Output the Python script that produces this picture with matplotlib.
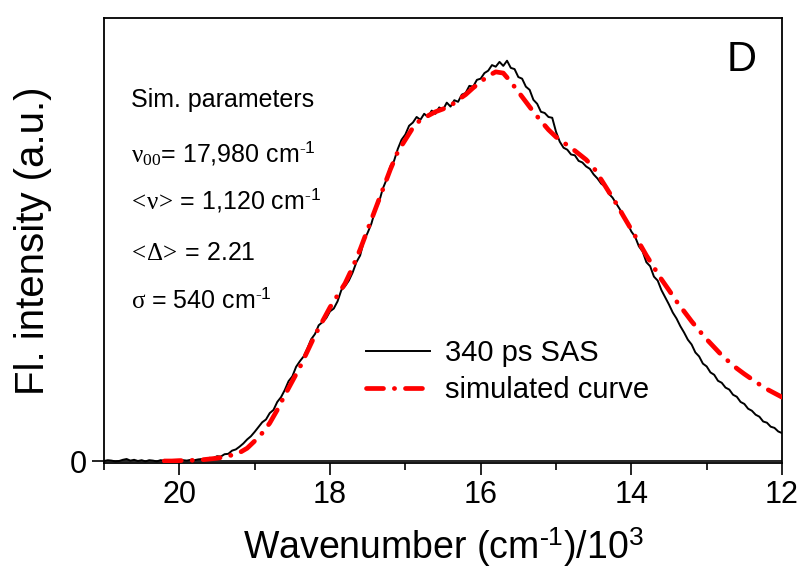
import numpy as np
import matplotlib
matplotlib.use("Agg")
import matplotlib.pyplot as plt

plt.rcParams['font.family'] = ['Liberation Sans', 'DejaVu Sans']
plt.rcParams['mathtext.fontset'] = 'custom'
plt.rcParams['mathtext.rm'] = 'Liberation Serif'
plt.rcParams['mathtext.sf'] = 'Liberation Sans'
plt.rcParams['mathtext.it'] = 'Liberation Serif:italic'
plt.rcParams['mathtext.bf'] = 'Liberation Serif:bold'

# ---- data (wavenumber in 10^3 cm^-1, normalized intensity) ----
sas_x_start, sas_x_end = 21.0, 12.0
sas_y = [
    0.000, 0.002, 0.001, -0.001, 0.000, 0.003, 0.005, 0.001, 0.003, 0.000,
    0.002, -0.001, 0.002, 0.001, -0.001, 0.002, 0.001, 0.000, 0.001, -0.001,
    0.001, 0.002, 0.001, 0.003, 0.002, 0.004, 0.005, 0.004, 0.008, 0.007,
    0.012, 0.011, 0.017, 0.018, 0.026, 0.029, 0.036, 0.044, 0.054, 0.062,
    0.073, 0.085, 0.097, 0.104, 0.120, 0.128, 0.148, 0.160, 0.178, 0.200,
    0.212, 0.236, 0.250, 0.262, 0.282, 0.305, 0.318, 0.340, 0.348, 0.358,
    0.375, 0.382, 0.400, 0.428, 0.438, 0.452, 0.472, 0.498, 0.515, 0.552,
    0.572, 0.595, 0.628, 0.648, 0.682, 0.705, 0.738, 0.752, 0.782, 0.805,
    0.818, 0.840, 0.848, 0.862, 0.855, 0.870, 0.862, 0.878, 0.870, 0.886,
    0.880, 0.898, 0.888, 0.904, 0.900, 0.918, 0.922, 0.940, 0.938, 0.955,
    0.958, 0.972, 0.978, 0.992, 0.988, 1.000, 0.990, 1.003, 0.985, 0.982,
    0.962, 0.958, 0.938, 0.930, 0.905, 0.895, 0.875, 0.872, 0.862, 0.860,
    0.825, 0.800, 0.785, 0.780, 0.768, 0.766, 0.752, 0.748, 0.738, 0.732,
    0.718, 0.708, 0.695, 0.688, 0.670, 0.660, 0.645, 0.630, 0.610, 0.595,
    0.575, 0.562, 0.538, 0.525, 0.498, 0.488, 0.462, 0.452, 0.428, 0.410,
    0.392, 0.372, 0.357, 0.338, 0.322, 0.304, 0.292, 0.272, 0.262, 0.244,
    0.237, 0.222, 0.216, 0.201, 0.196, 0.184, 0.179, 0.166, 0.161, 0.148,
    0.143, 0.131, 0.126, 0.116, 0.111, 0.099, 0.096, 0.086, 0.083, 0.074,
    0.070,
]
sim_x_start, sim_x_end = 20.2, 12.0
sim_y = [
    0.000, 0.000, 0.001,
    0.001, 0.002, 0.003, 0.005, 0.007, 0.010, 0.015, 0.021, 0.032, 0.050,
    0.070, 0.095, 0.128, 0.165, 0.200, 0.235, 0.275, 0.315, 0.350, 0.385,
    0.415, 0.445, 0.485, 0.530, 0.580, 0.630, 0.680, 0.730, 0.775, 0.805,
    0.835, 0.855, 0.865, 0.875, 0.882, 0.890, 0.905, 0.918, 0.935, 0.950,
    0.965, 0.975, 0.972, 0.950, 0.925, 0.900, 0.875, 0.852, 0.830, 0.812,
    0.798, 0.785, 0.770, 0.755, 0.735, 0.705, 0.675, 0.645, 0.612, 0.580,
    0.548, 0.515, 0.485, 0.455, 0.428, 0.400, 0.375, 0.350, 0.327, 0.305,
    0.285, 0.265, 0.248, 0.232, 0.218, 0.205, 0.192, 0.180, 0.170, 0.160,
]
sas_x = np.linspace(sas_x_start, sas_x_end, len(sas_y))
sim_x = np.linspace(sim_x_start, sim_x_end, len(sim_y))

xticks = [20, 18, 16, 14, 12]
xminor = [21, 19, 17, 15, 13]
series_labels = ['340 ps SAS', 'simulated curve']
panel_letter = 'D'
sup = r'$^{\mathsf{\text{-}1}}$'
params = [
    'Sim. parameters',
    r'$\mathrm{\nu_{00}}$= 17,980 cm' + sup,
    r'$\mathrm{\!<\!\nu\!>\!}$ = 1,120 cm' + sup,
    r'$\mathrm{\!<\!\Delta\!>\!}$ = 2.21',
    r'$\mathrm{\sigma}$ = 540 cm' + sup,
]

W, H = 805, 571
fig = plt.figure(figsize=(W / 100, H / 100), dpi=100)
L, R, T, B = 104, 782, 18, 463
ax = fig.add_axes([L / W, 1 - B / H, (R - L) / W, (B - T) / H])

ax.plot(sas_x, sas_y, color='black', lw=1.4, label=series_labels[0], zorder=3)
ax.plot(sim_x, sim_y, color='red', lw=3.4, label=series_labels[1],
        dashes=(3.6, 2.3, 0.05, 2.3), dash_capstyle='round', zorder=4)
ax.axhline(0, color='black', lw=1.2, zorder=2)

ax.set_xlim(21, 12)
ax.set_ylim(-0.005, 1.110)
ax.set_xticks(xticks)
ax.set_xticks(xminor, minor=True)
ax.set_yticks([0])
ax.tick_params(axis='both', which='major', direction='out', length=8.5, width=1.2,
               labelsize=22, pad=4)
ax.tick_params(axis='x', which='minor', direction='out', length=5, width=1.2)
for s in ax.spines.values():
    s.set_linewidth(1.3)

ax.set_xlabel(r'Wavenumber (cm' + sup + r')/10$^{\mathsf{3}}$', fontsize=27, labelpad=11)
ax.set_ylabel('Fl. intensity (a.u.)', fontsize=29)
ax.yaxis.set_label_coords((52 - L) / (R - L), 0.5)

def fpos(px, py):
    return px / W, 1 - py / H

fig.text(*fpos(742, 60), panel_letter, fontsize=30, ha='center', va='center')
baselines = [107, 162, 208, 260, 308]
for txt, by in zip(params, baselines):
    fig.text(*fpos(131, by), txt, fontsize=18, ha='left', va='baseline')

leg = ax.legend(loc='upper left', bbox_to_anchor=fpos(366, 339),
                bbox_transform=fig.transFigure, frameon=False, fontsize=21,
                handlelength=2.2, handletextpad=0.5, labelspacing=0.3,
                borderpad=0, borderaxespad=0)

fig.savefig('out.png', dpi=100)
